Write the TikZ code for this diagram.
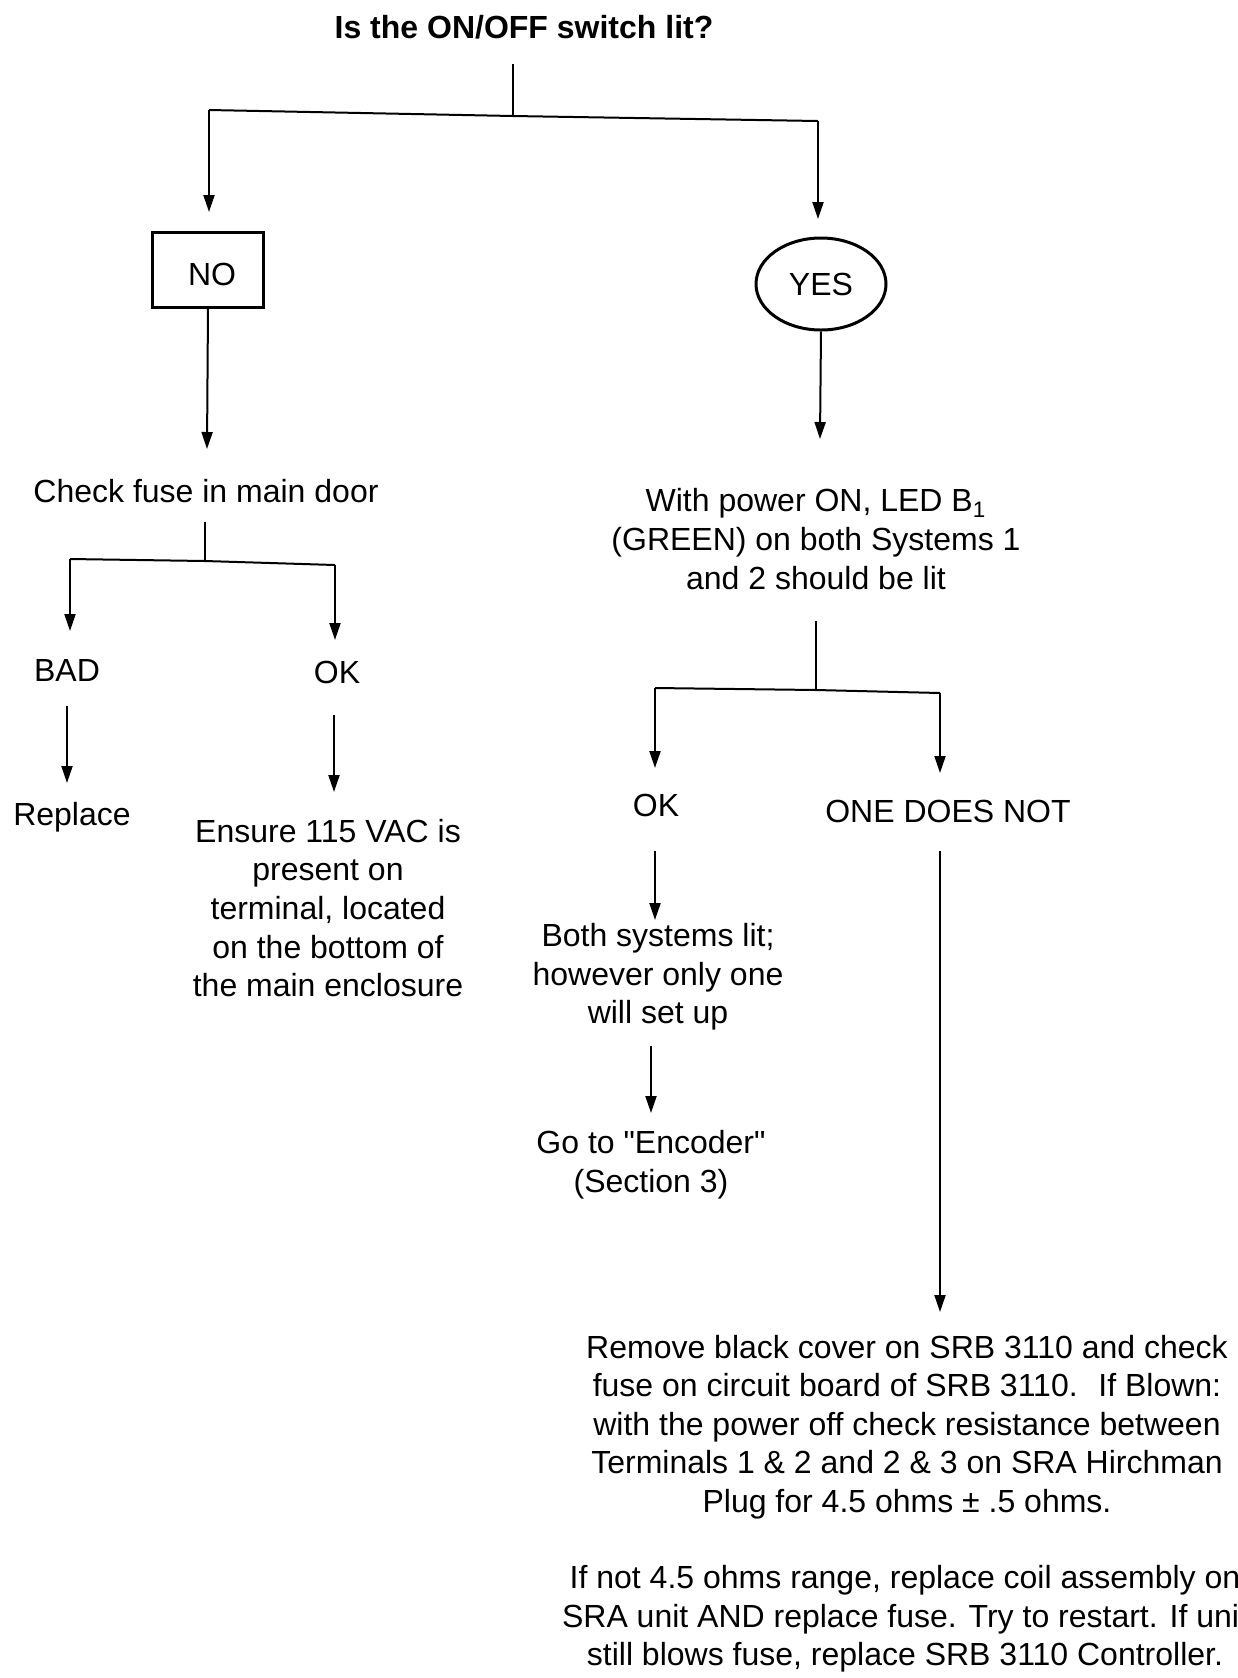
\documentclass[tikz,border=0pt]{standalone}
\usepackage{fontspec}
\setmainfont{Liberation Sans}[Ligatures=TeXOff]
\usetikzlibrary{arrows.meta,shapes.geometric}
\begin{document}
\begin{tikzpicture}[x=0.5pt,y=-0.5pt,
  line/.style={line width=1pt},
  arr/.style={line width=1pt,-{Triangle[length=8.5pt,width=5.5pt]}},
  txt/.style={font=\fontsize{16}{19.3}\selectfont, align=center, inner sep=0pt},
  ttl/.style={font=\bfseries\fontsize{16}{19.3}\selectfont, align=center, inner sep=0pt},
  boxnode/.style={draw, line width=1.5pt, minimum width=55.5pt, minimum height=37.5pt},
  ellnode/.style={txt, draw, ellipse, line width=1.5pt, minimum width=65pt, minimum height=46pt}]
\useasboundingbox (0,0) rectangle (1238,1678);

% nodes
\node[ttl] (q) at (524,27) {Is the ON/OFF switch lit?};
\node[boxnode, label={[txt,xshift=2pt,yshift=-2pt]center:NO}] (no) at (208,270) {};
\node[ellnode] (yes) at (821,284) {YES};
\node[txt] (check) at (206,491) {Check fuse in main door};
\node[txt] (bad) at (67,670) {BAD};
\node[txt] (okl) at (337,672) {OK};
\node[txt] (replace) at (72,817) {Replace};
\node[txt] (ensure) at (328,908) {Ensure 115 VAC is\\present on\\terminal, located\\on the bottom of\\the main enclosure};
\node[txt] (led) at (816,539) {With power ON, LED B\textsubscript{1}\\(GREEN) on both Systems 1\\and 2 should be lit};
\node[txt] (okr) at (656,805) {OK};
\node[txt] (one) at (948,811) {ONE DOES NOT};
\node[txt] (both) at (658,977) {Both systems lit;\\however only one\\will set up};
\node[txt] (goto) at (651,1165) {Go to "Encoder"\\(Section 3)};
\node[txt] (remove) at (907,1427) {Remove black cover on SRB 3110 and check\\fuse on circuit board of SRB 3110.~ If Blown:\\with the power off check resistance between\\Terminals 1 \& 2 and 2 \& 3 on SRA Hirchman\\Plug for 4.5 ohms ± .5 ohms.};
\node[txt] (ifnot) at (905,1619) {If not 4.5 ohms range, replace coil assembly on\\SRA unit AND replace fuse. Try to restart. If unit\\still blows fuse, replace SRB 3110 Controller.};

% connector points
\coordinate (qs) at (513,64);
\coordinate (qm) at (513,116);
\coordinate (ql) at (209,110);
\coordinate (qr) at (818,121);
\coordinate (noTip) at (209,212);
\coordinate (yesTip) at (818,219);
\coordinate (checkTip) at (207,449);
\coordinate (ledTip) at (820,439);
\coordinate (cs) at (205,522);
\coordinate (cm) at (205,561);
\coordinate (cl) at (70,559);
\coordinate (cr) at (335,565);
\coordinate (badTip) at (70,631);
\coordinate (oklTip) at (335,640);
\coordinate (bs) at (67,706);
\coordinate (replaceTip) at (67,783);
\coordinate (os) at (334,715);
\coordinate (ensureTip) at (334,792);
\coordinate (ls) at (816,621);
\coordinate (lm) at (816,690);
\coordinate (ll) at (655,688);
\coordinate (lr) at (940,693);
\coordinate (okrTip) at (655,768);
\coordinate (oneTip) at (940,773);
\coordinate (ors) at (655,851);
\coordinate (bothTip) at (655,920);
\coordinate (bts) at (651,1046);
\coordinate (gotoTip) at (651,1113);
\coordinate (ones) at (940,851);
\coordinate (removeTip) at (940,1312);

% connectors
\draw[line] (qs) -- (qm);
\draw[line] (ql) -- (qm) -- (qr);
\draw[arr] (ql) -- (noTip);
\draw[arr] (qr) -- (yesTip);
\draw[arr] (no.south |- 0,308) -- (checkTip);
\draw[arr] (yes.south) -- (ledTip);
\draw[line] (cs) -- (cm);
\draw[line] (cl) -- (cm) -- (cr);
\draw[arr] (cl) -- (badTip);
\draw[arr] (cr) -- (oklTip);
\draw[arr] (bs) -- (replaceTip);
\draw[arr] (os) -- (ensureTip);
\draw[line] (ls) -- (lm);
\draw[line] (ll) -- (lm) -- (lr);
\draw[arr] (ll) -- (okrTip);
\draw[arr] (lr) -- (oneTip);
\draw[arr] (ors) -- (bothTip);
\draw[arr] (bts) -- (gotoTip);
\draw[arr] (ones) -- (removeTip);
\end{tikzpicture}
\end{document}
